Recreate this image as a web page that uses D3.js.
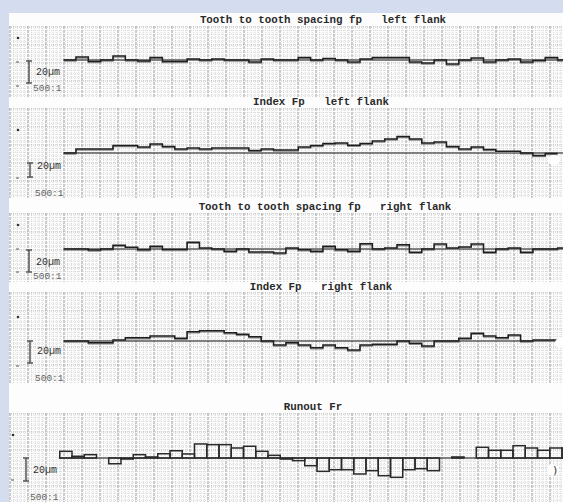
<!DOCTYPE html>
<html>
<head>
<meta charset="utf-8">
<script src="https://cdn.jsdelivr.net/npm/d3@7"></script>
<style>
  body { margin: 0; background: #d4dcef; }
  svg { display: block; }
  .title { font-family: "Liberation Mono", "DejaVu Sans Mono", monospace; font-weight: bold; font-size: 10.8px; fill: #2a2a2a; white-space: pre; }
  .lbl { font-family: "Liberation Mono", "DejaVu Sans Mono", monospace; font-size: 10px; fill: #333; }
  .scale { font-family: "Liberation Mono", "DejaVu Sans Mono", monospace; font-size: 9.5px; fill: #666; }
</style>
</head>
<body>
<div id="chart"></div>
<script>
// deviations in µm, one value per tooth
const fpLeft = [0, 2.7, -1.4, 0, 3.6, 0, -0.9, 2.3, -1.4, -1.4, 0.9, 0, 0.9, 0, 0, -1.8, 0.9, 0, 0, 2.3,
  0, 1.4, 0, -1.8, 0.9, 2.3, 2.3, 2.3, -1.8, -2.7, 0, -3.6, 0, 1.8, -1.8, 0, 0.9, -1.8, -0.5, 2.3, 0];
const FpLeft = [0, 5.7, 5.7, 5.7, 10.7, 10.7, 8.6, 12.9, 9.3, 5.7, 7.1, 5.7, 7.1, 7.1, 7.1, 3.6, 5.7, 4.3, 4.3, 8.6,
  10.7, 13.6, 14.3, 11, 13.6, 17.1, 20, 23.6, 20, 14.3, 15.7, 9.3, 5.7, 8.6, 5, 2.4, 2.4, 0, -3.6, -0.7];
const fpRight = [0, 0, -0.9, 0, 3.4, 1.5, -0.6, 2.5, -0.5, -0.5, 6.1, 0.9, 0, -2.1, 0, -2.7, -2.7, -3.6, 0.9, -0.6,
  -2.1, 2.5, -0.6, -2.1, 4.8, 0, 0.9, 3.9, -3, 0, 4.5, 0.9, 1.8, 4.5, -3, 0, 0.9, -3, 0, 0, 0.9];
const FpRight = [0, 0, -1.5, -1.5, 0.9, 3, 3, 4.5, 4.5, 2.5, 8.5, 9.4, 9.4, 7.5, 6.1, 3.9, 0, -3.6, -1.5, -3.6,
  -6.1, -3.6, -6.1, -8.2, -3.6, -3, -3, 0, -2.1, -4.5, 0, 0, 2.5, 7, 4.5, 3, 5.5, 0, 0.9, 0.9];
const runout = [5.8, 1.5, 2.9, 0, -5, -0.9, 2.9, 0.9, 3.7, 6.3, 3.5, 12.2, 11.6, 11.6, 8.7, 10.2, 5.8, 2.3, -0.9, -2.3,
  -6.7, -11.6, -10.2, -10.2, -13.9, -11, -15.4, -16.8, -10.2, -9.3, -11, 0, 0.9, 0, 9.3, 6.7, 6.7, 10.7, 8.7, 6.7,
  8.7, 8.7];

const titles = [
  "Tooth to tooth spacing fp   left flank",
  "Index Fp   left flank",
  "Tooth to tooth spacing fp   right flank",
  "Index Fp   right flank",
  "Runout Fr"
];
const scaleLabel = "20µm";
const ratioLabel = "500:1";
const barSize = 20; // µm

const W = 563, H = 502;

// layout per panel (pixels)
const panels = [
  { values: fpLeft, mode: "step", top: 26, bottom: 97, zero: 60, k: 1.1, barTop: 61, titleY: 23, tx: 323,
    x0: 63.6, tw: 12.35, barX: 29, dotX: 18, dotY: 38, markY: [62, 86], lblY: 75, ratioX: 33, ratioY: 91 },
  { values: FpLeft, mode: "step", top: 108, bottom: 198, zero: 153, k: 0.7, barTop: 163, titleY: 105, tx: 321,
    x0: 63.6, tw: 12.35, barX: 30, dotX: 18, dotY: 130, markY: [178], lblY: 169, ratioX: 35, ratioY: 196 },
  { values: fpRight, mode: "step", top: 213, bottom: 282, zero: 249, k: 1.1, barTop: 250, titleY: 210, tx: 325,
    x0: 63.6, tw: 12.35, barX: 29, dotX: 18, dotY: 225, markY: [249, 272], lblY: 265, ratioX: 33, ratioY: 279 },
  { values: FpRight, mode: "step", top: 292, bottom: 383, zero: 341, k: 1.1, barTop: 341, titleY: 290, tx: 321,
    x0: 63.6, tw: 12.35, barX: 30, dotX: 18, dotY: 317, markY: [366], lblY: 354, ratioX: 35, ratioY: 381 },
  { values: runout, mode: "box", top: 413, bottom: 502, zero: 458, k: 1.15, barTop: 458, titleY: 410, tx: 313,
    x0: 59.75, tw: 12.25, barX: 26, dotX: 13, dotY: 435, markY: [480], lblY: 473, ratioX: 30, ratioY: 500 }
];

const svg = d3.select("#chart").append("svg").attr("width", W).attr("height", H);

svg.append("rect").attr("x", 9).attr("y", 13).attr("width", W - 9).attr("height", H - 13).attr("fill", "#fdfdfd");

panels.forEach((p, pi) => {
  const g = svg.append("g");
  const clipId = "clip" + pi;
  svg.append("clipPath").attr("id", clipId)
    .append("rect").attr("x", 9).attr("y", p.top).attr("width", W - 9).attr("height", p.bottom - p.top);

  // grid paper
  const grid = g.append("g").attr("clip-path", `url(#${clipId})`);
  const step = 3.6;
  const vx = d3.range(10, W, step);
  const hy = d3.range(p.top + 1, p.bottom, step);
  grid.selectAll(".vmin").data(vx).join("line")
    .attr("x1", d => d).attr("x2", d => d).attr("y1", p.top).attr("y2", p.bottom)
    .attr("stroke", (d, i) => i % 5 === 0 ? "#8f8f8f" : "#c4c4c4")
    .attr("stroke-width", (d, i) => i % 5 === 0 ? 0.9 : 0.7)
    .attr("stroke-dasharray", (d, i) => i % 5 === 0 ? "3,1" : "1,1");
  grid.selectAll(".hmin").data(hy).join("line")
    .attr("x1", 9).attr("x2", W).attr("y1", d => d).attr("y2", d => d)
    .attr("stroke", (d, i) => i % 5 === 0 ? "#aaaaaa" : "#d0d0d0")
    .attr("stroke-width", (d, i) => i % 5 === 0 ? 0.8 : 0.7)
    .attr("stroke-dasharray", "1,1");

  // title
  svg.append("text").attr("class", "title").attr("x", p.tx).attr("y", p.titleY)
    .attr("text-anchor", "middle").text(titles[pi]);

  const n = p.values.length;
  const x = d3.scaleLinear().domain([0, n]).range([p.x0, p.x0 + n * p.tw]);
  const y = d3.scaleLinear().domain([-barSize, barSize]).range([p.zero + barSize * p.k, p.zero - barSize * p.k]);

  const plot = g.append("g").attr("clip-path", `url(#${clipId})`);

  // zero line
  plot.append("line").attr("x1", x(0) - (p.mode === "box" ? 1 : 0)).attr("x2", W)
    .attr("y1", y(0)).attr("y2", y(0))
    .attr("stroke", "#5a5a5a").attr("stroke-width", p.mode === "box" ? 1.6 : 1.3);

  if (p.mode === "step") {
    const pts = p.values.map((v, i) => [i, v]).concat([[n, p.values[n - 1]]]);
    const line = d3.line().x(d => x(d[0])).y(d => y(d[1])).curve(d3.curveStepAfter);
    plot.append("path").attr("d", line(pts)).attr("fill", "none")
      .attr("stroke", "#8a8a8a").attr("stroke-width", 1.2).attr("transform", "translate(0,1.2)");
    plot.append("path").attr("d", line(pts)).attr("fill", "none")
      .attr("stroke", "#1e1e1e").attr("stroke-width", 1.5);
  } else {
    plot.selectAll(".box").data(p.values).join("rect")
      .attr("x", (d, i) => x(i)).attr("width", p.tw)
      .attr("y", d => Math.min(y(d), y(0))).attr("height", d => Math.abs(y(d) - y(0)))
      .attr("fill", "none").attr("stroke", "#2a2a2a").attr("stroke-width", 1.5);
  }

  // left marks
  svg.append("circle").attr("cx", p.dotX).attr("cy", p.dotY).attr("r", 1.3).attr("fill", "#333");
  p.markY.forEach(my => {
    svg.append("line").attr("x1", p.dotX - 2).attr("x2", p.dotX + 1).attr("y1", my).attr("y2", my)
      .attr("stroke", "#555").attr("stroke-width", 1);
  });

  // scale bar (20 µm)
  const by0 = p.barTop, by1 = p.barTop + (y(0) - y(barSize));
  const bar = svg.append("g").attr("stroke", "#555").attr("stroke-width", 1.5);
  bar.append("line").attr("x1", p.barX).attr("x2", p.barX).attr("y1", by0).attr("y2", by1);
  bar.append("line").attr("x1", p.barX - 3).attr("x2", p.barX + 3).attr("y1", by0).attr("y2", by0);
  bar.append("line").attr("x1", p.barX - 3).attr("x2", p.barX + 3).attr("y1", by1).attr("y2", by1);
  svg.append("text").attr("class", "lbl").attr("x", p.barX + 7).attr("y", p.lblY).text(scaleLabel);
  svg.append("text").attr("class", "scale").attr("x", p.ratioX).attr("y", p.ratioY).text(ratioLabel);
});

// scan blemishes at the right edge
[[554, 160, 6, 5], [560, 343, 5, 5], [553, 470, 6, 6]].forEach(b => {
  svg.append("ellipse").attr("cx", b[0]).attr("cy", b[1]).attr("rx", b[2]).attr("ry", b[3]).attr("fill", "#fff");
});
svg.append("text").attr("x", 553).attr("y", 474).attr("font-size", 11).attr("fill", "#333")
  .attr("font-family", "DejaVu Sans").text(")");
</script>
</body>
</html>
